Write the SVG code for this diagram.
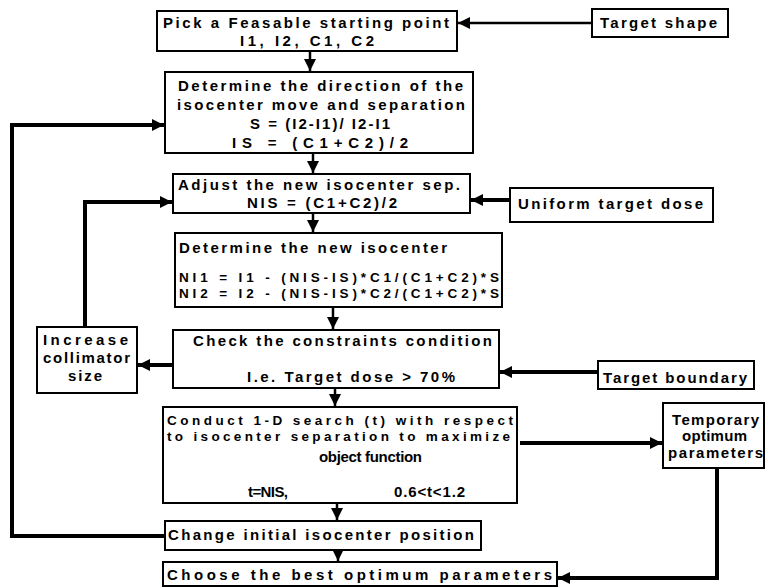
<svg xmlns="http://www.w3.org/2000/svg" width="768" height="588" viewBox="0 0 768 588">
<style>
.box{fill:#fff;stroke:#000;stroke-width:2}
.t{font-family:"Liberation Sans",Arial,sans-serif;font-weight:bold;font-size:15px;fill:#000}
.s{font-size:13.5px}
.c{fill:none;stroke:#000;stroke-width:2.5}
.k{fill:none;stroke:#000;stroke-width:4}
</style>
<defs>
<marker id="ah" markerUnits="userSpaceOnUse" markerWidth="12" markerHeight="12" refX="12" refY="6" orient="auto">
<path d="M0,0 L12,6 L0,12 z" fill="#000"/>
</marker>
</defs>
<rect width="768" height="588" fill="#fff"/>

<g id="connectors">
<line class="c" x1="592" y1="23" x2="458" y2="23" marker-end="url(#ah)"/>
<line class="c" x1="310" y1="51" x2="310" y2="71" marker-end="url(#ah)"/>
<polyline class="k" points="165,536 12,536 12,125 164,125" marker-end="url(#ah)"/>
<line class="c" x1="313" y1="153" x2="313" y2="173" marker-end="url(#ah)"/>
<line class="k" x1="510" y1="200" x2="471" y2="200" marker-end="url(#ah)"/>
<line class="c" x1="313" y1="213" x2="313" y2="232" marker-end="url(#ah)"/>
<line class="c" x1="333" y1="307" x2="333" y2="329" marker-end="url(#ah)"/>
<line class="k" x1="598" y1="372" x2="500" y2="372" marker-end="url(#ah)"/>
<line class="k" x1="173" y1="365" x2="138" y2="365" marker-end="url(#ah)"/>
<polyline class="k" points="85,327 85,202 172,202" marker-end="url(#ah)"/>
<line class="c" x1="335" y1="388" x2="335" y2="406" marker-end="url(#ah)"/>
<line class="k" x1="520" y1="443" x2="662" y2="443" marker-end="url(#ah)"/>
<polyline class="k" points="717,468 717,578 558,578" marker-end="url(#ah)"/>
<line class="c" x1="337" y1="503" x2="337" y2="520" marker-end="url(#ah)"/>
<line class="c" x1="338" y1="550" x2="338" y2="561" marker-end="url(#ah)"/>
</g>

<g id="n-start">
<rect class="box" x="157" y="11" width="300" height="40"/>
<text class="t" x="163" y="28" textLength="286" lengthAdjust="spacing">Pick a Feasable starting point</text>
<text class="t" x="240" y="46" textLength="134" lengthAdjust="spacing">I1, I2, C1, C2</text>
</g>

<g id="n-target-shape">
<rect class="box" x="592" y="9" width="136" height="28"/>
<text class="t" x="600" y="28" textLength="117" lengthAdjust="spacing">Target shape</text>
</g>

<g id="n-direction">
<rect class="box" x="165" y="72" width="308" height="81"/>
<text class="t" x="178" y="91" textLength="285" lengthAdjust="spacing">Determine the direction of the</text>
<text class="t" x="177" y="110" textLength="288" lengthAdjust="spacing">isocenter move and separation</text>
<text class="t" x="250" y="129" textLength="140" lengthAdjust="spacing">S = (I2-I1)/ I2-I1</text>
<text class="t" x="232" y="148" textLength="176" lengthAdjust="spacing">IS = (C1+C2)/2</text>
</g>

<g id="n-adjust">
<rect class="box" x="173" y="174" width="297" height="39"/>
<text class="t" x="178" y="190" textLength="282" lengthAdjust="spacing">Adjust the new isocenter sep.</text>
<text class="t" x="247" y="208" textLength="150" lengthAdjust="spacing">NIS = (C1+C2)/2</text>
</g>

<g id="n-uniform">
<rect class="box" x="510" y="188" width="203" height="34"/>
<text class="t" x="518" y="209" textLength="185" lengthAdjust="spacing">Uniform target dose</text>
</g>

<g id="n-new-iso">
<rect class="box" x="175" y="233" width="327" height="74"/>
<text class="t" x="179" y="253" textLength="268" lengthAdjust="spacing">Determine the new isocenter</text>
<text class="t s" x="179" y="282" textLength="320" lengthAdjust="spacing">NI1 = I1 - (NIS-IS)*C1/(C1+C2)*S</text>
<text class="t s" x="179" y="298" textLength="320" lengthAdjust="spacing">NI2 = I2 - (NIS-IS)*C2/(C1+C2)*S</text>
</g>

<g id="n-check">
<rect class="box" x="173" y="330" width="326" height="58"/>
<text class="t" x="193" y="346" textLength="299" lengthAdjust="spacing">Check the constraints condition</text>
<text class="t" x="247" y="382" textLength="208" lengthAdjust="spacing">I.e. Target dose &gt; 70%</text>
</g>

<g id="n-boundary">
<rect class="box" x="598" y="361" width="156" height="28"/>
<text class="t" x="603" y="383" textLength="144" lengthAdjust="spacing">Target boundary</text>
</g>

<g id="n-increase">
<rect class="box" x="37" y="327" width="100" height="66"/>
<text class="t" x="43" y="345" textLength="85" lengthAdjust="spacing">Increase</text>
<text class="t" x="43" y="363" textLength="87" lengthAdjust="spacing">collimator</text>
<text class="t" x="68" y="381" textLength="34" lengthAdjust="spacing">size</text>
</g>

<g id="n-search">
<rect class="box" x="163" y="407" width="354" height="96"/>
<text class="t s" x="167" y="425" textLength="346" lengthAdjust="spacing">Conduct 1-D search (t) with respect</text>
<text class="t s" x="167" y="441" textLength="343" lengthAdjust="spacing">to isocenter separation to maximize</text>
<text class="t" x="319" y="462" textLength="103" lengthAdjust="spacing">object function</text>
<text class="t" x="248" y="497" textLength="40" lengthAdjust="spacing">t=NIS,</text>
<text class="t" x="394" y="497" textLength="71" lengthAdjust="spacing">0.6&lt;t&lt;1.2</text>
</g>

<g id="n-temp">
<rect class="box" x="663" y="403" width="101" height="65"/>
<text class="t" x="672" y="425" textLength="87" lengthAdjust="spacing">Temporary</text>
<text class="t" x="682" y="441" textLength="65" lengthAdjust="spacing">optimum</text>
<text class="t" x="668" y="458" textLength="95" lengthAdjust="spacing">parameters</text>
</g>

<g id="n-change">
<rect class="box" x="165" y="521" width="316" height="29"/>
<text class="t" x="168" y="540" textLength="306" lengthAdjust="spacing">Change initial isocenter position</text>
</g>

<g id="n-choose">
<rect class="box" x="163" y="562" width="394" height="24"/>
<text class="t" x="167" y="580" textLength="385" lengthAdjust="spacing">Choose the best optimum parameters</text>
</g>
</svg>
